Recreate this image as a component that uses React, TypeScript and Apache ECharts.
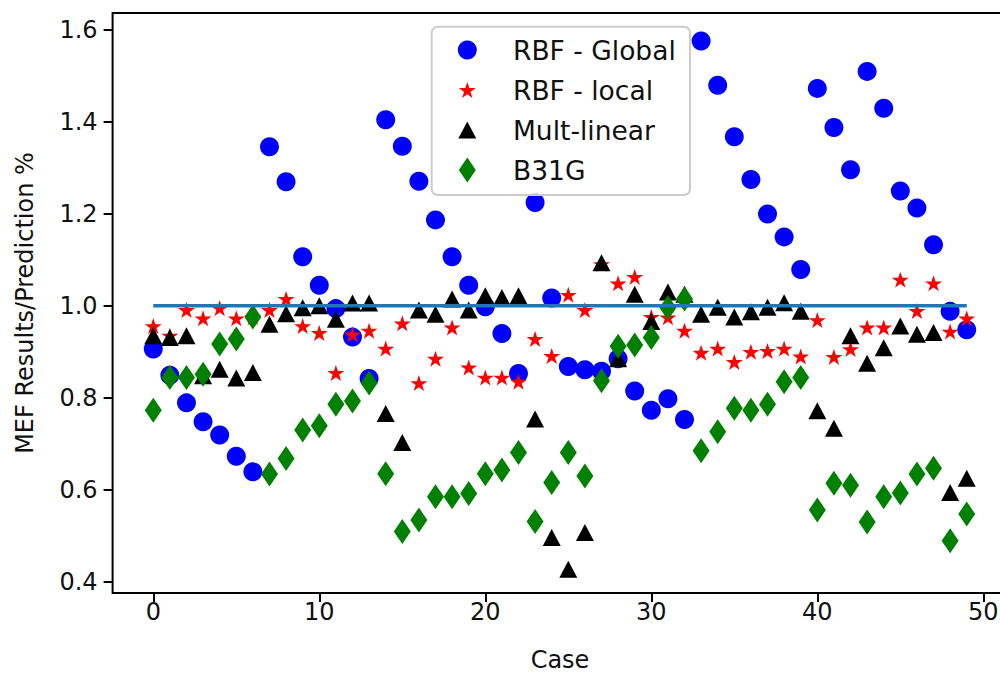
import React, { useEffect, useRef } from "react";
import * as echarts from "echarts";

// ---- data ----
const cases = [
  0, 1, 2, 3, 4, 5, 6, 7, 8, 9, 10, 11, 12, 13, 14, 15, 16, 17, 18, 19, 20, 21, 22, 23, 24,
  25, 26, 27, 28, 29, 30, 31, 32, 33, 34, 35, 36, 37, 38, 39, 40, 41, 42, 43, 44, 45, 46, 47, 48, 49,
];

const rbfGlobal = [
  0.906, 0.849, 0.789, 0.748, 0.719, 0.673, 0.639, 1.346, 1.27, 1.107,
  1.045, 0.994, 0.932, 0.842, 1.405, 1.347, 1.271, 1.187, 1.107, 1.045,
  0.998, 0.94, 0.853, 1.225, 1.017, 0.868, 0.861, 0.858, 0.885, 0.815,
  0.773, 0.798, 0.753, 1.576, 1.48, 1.368, 1.275, 1.2, 1.15, 1.079,
  1.473, 1.388, 1.296, 1.51, 1.43, 1.25, 1.213, 1.133, 0.988, 0.948,
];

const rbfLocal = [
  0.956, 0.935, 0.991, 0.973, 0.995, 0.973, 0.975, 0.991, 1.015, 0.956,
  0.941, 0.854, 0.938, 0.946, 0.907, 0.962, 0.832, 0.885, 0.953, 0.866,
  0.844, 0.844, 0.835, 0.928, 0.891, 1.024, 0.991, 1.091, 1.049, 1.063,
  0.976, 0.975, 0.946, 0.898, 0.907, 0.878, 0.9, 0.902, 0.907, 0.89,
  0.969, 0.889, 0.906, 0.953, 0.953, 1.057, 0.989, 1.049, 0.944, 0.973,
];

const multLinear = [
  0.935, 0.931, 0.935, 0.848, 0.862, 0.843, 0.855, 0.96, 0.983, 0.996,
  1.0, 0.971, 1.006, 1.006, 0.766, 0.703, 0.991, 0.982, 1.015, 0.991,
  1.022, 1.018, 1.022, 0.754, 0.496, 0.427, 0.507, 1.094, 0.885, 1.025,
  0.966, 1.03, 1.025, 0.982, 0.997, 0.976, 0.987, 0.997, 1.007, 0.988,
  0.772, 0.734, 0.935, 0.875, 0.909, 0.956, 0.938, 0.942, 0.594, 0.625,
];

const b31g = [
  0.773, 0.844, 0.844, 0.851, 0.917, 0.928, 0.976, 0.634, 0.668, 0.73,
  0.739, 0.786, 0.793, 0.832, 0.635, 0.509, 0.534, 0.585, 0.585, 0.592,
  0.635, 0.643, 0.681, 0.531, 0.616, 0.681, 0.63, 0.837, 0.912, 0.915,
  0.931, 0.996, 1.015, 0.685, 0.726, 0.777, 0.773, 0.786, 0.835, 0.844,
  0.556, 0.614, 0.61, 0.53, 0.585, 0.593, 0.634, 0.647, 0.489, 0.547,
];

const refLineX = [0, 49];
const refLineY = [1, 1];

const xTicks = [0, 10, 20, 30, 40, 50];
const yTicks = [0.4, 0.6, 0.8, 1.0, 1.2, 1.4, 1.6];

const seriesNames = ["RBF - Global", "RBF - local", "Mult-linear", "B31G"];

// ---- styling ----
const FONT = "DejaVu Sans";
const STAR =
  "path://M0,-100L-22.45,-30.9L-95.11,-30.9L-36.33,11.8L-58.78,80.9L0,38.2L58.78,80.9L36.33,11.8L95.11,-30.9L22.45,-30.9Z";
const THIN_DIAMOND = "path://M0,-125L85,0L0,125L-85,0Z";
const TRIANGLE = "path://M0,-85L90,85L-90,85Z";

const markerStyles = [
  { color: "#0000ff", symbol: "circle", size: [19, 19] as [number, number], icon: "circle", iconW: 19, iconH: 19 },
  { color: "#ff0000", symbol: STAR, size: [17, 16] as [number, number], icon: STAR, iconW: 16.8, iconH: 16 },
  { color: "#000000", symbol: "triangle", size: [18, 17] as [number, number], icon: TRIANGLE, iconW: 18, iconH: 17 },
  { color: "#008000", symbol: THIN_DIAMOND, size: [17, 25] as [number, number], icon: THIN_DIAMOND, iconW: 17, iconH: 25 },
];

const seriesValues = [rbfGlobal, rbfLocal, multLinear, b31g];

const GRID = { left: 112.6, top: 13, width: 894.8, height: 580 };
const LEGEND_ROW_CENTERS = [49.5, 89.5, 129.5, 169.5];
const LEGEND_MARKER_X = 467.3;
const LEGEND_LINE_H = 26;

function buildOption(): echarts.EChartsOption {
  const scatterSeries = seriesNames.map((name, k) => ({
    name,
    type: "scatter" as const,
    data: cases.map((c, i) => [c, seriesValues[k][i]]),
    symbol: markerStyles[k].symbol,
    symbolSize: markerStyles[k].size,
    itemStyle: { color: markerStyles[k].color, opacity: 1 },
    emphasis: { disabled: true },
    silent: true,
    z: 2,
  }));

  const lineSeries = {
    name: "reference",
    type: "line" as const,
    data: refLineX.map((x, i) => [x, refLineY[i]]),
    symbol: "none",
    showSymbol: false,
    lineStyle: { color: "#1f77b4", width: 3.5 },
    itemStyle: { color: "#1f77b4" },
    emphasis: { disabled: true },
    silent: true,
    z: 3,
  };

  const legends = seriesNames.map((name, k) => ({
    data: [{ name, icon: markerStyles[k].icon }],
    orient: "vertical" as const,
    left: LEGEND_MARKER_X - markerStyles[k].iconW / 2,
    top: LEGEND_ROW_CENTERS[k] - Math.max(markerStyles[k].iconH, LEGEND_LINE_H) / 2,
    itemWidth: 81.4,
    itemHeight: markerStyles[k].iconH,
    padding: 0,
    selectedMode: false,
    z: 11,
    textStyle: { fontSize: 26.5, lineHeight: LEGEND_LINE_H, fontFamily: FONT, color: "#111" },
  }));

  return {
    animation: false,
    backgroundColor: "#ffffff",
    grid: {
      ...GRID,
      show: true,
      borderColor: "#000",
      borderWidth: 2,
      backgroundColor: "transparent",
      containLabel: false,
      outerBoundsMode: "none",
    } as any,
    xAxis: {
      type: "value",
      min: -2.45,
      max: 51.45,
      name: "Case",
      nameLocation: "middle",
      nameGap: 55,
      nameTextStyle: { fontSize: 24, fontFamily: FONT, color: "#111" },
      axisLine: { show: false, onZero: false },
      splitLine: { show: false },
      axisTick: {
        show: true,
        length: 9,
        lineStyle: { color: "#000", width: 2 },
        customValues: xTicks,
      } as any,
      axisLabel: {
        customValues: xTicks,
        fontSize: 24,
        fontFamily: FONT,
        color: "#111",
        margin: 7,
        formatter: (v: number) => String(v),
      } as any,
    },
    yAxis: {
      type: "value",
      min: 0.3754,
      max: 1.637,
      name: "MEF Results/Prediction %",
      nameLocation: "middle",
      nameGap: 76,
      nameRotate: 90,
      nameTextStyle: { fontSize: 24, fontFamily: FONT, color: "#111" },
      axisLine: { show: false, onZero: false },
      splitLine: { show: false },
      axisTick: {
        show: true,
        length: 9,
        lineStyle: { color: "#000", width: 2 },
        customValues: yTicks,
      } as any,
      axisLabel: {
        customValues: yTicks,
        fontSize: 24,
        fontFamily: FONT,
        color: "#111",
        margin: 15,
        formatter: (v: number) => v.toFixed(1),
      } as any,
    },
    legend: legends,
    graphic: [
      {
        type: "rect",
        z: 10,
        shape: { x: 431.7, y: 26.7, width: 258.3, height: 168.3, r: 6 },
        style: { fill: "rgba(255,255,255,0.8)", stroke: "#cccccc", lineWidth: 2 },
        silent: true,
      },
    ],
    series: [...scatterSeries, lineSeries],
  } as echarts.EChartsOption;
}

export default function App() {
  const ref = useRef<HTMLDivElement>(null);
  useEffect(() => {
    if (!ref.current) return;
    const chart = echarts.init(ref.current, null, { renderer: "svg" });
    chart.setOption(buildOption());
    return () => chart.dispose();
  }, []);
  return (
    <div
      style={{
        position: "absolute",
        left: 0,
        top: 0,
        width: 1000,
        height: 673,
        overflow: "hidden",
        background: "#fff",
      }}
    >
      <div ref={ref} style={{ width: 1040, height: 673 }} />
    </div>
  );
}
